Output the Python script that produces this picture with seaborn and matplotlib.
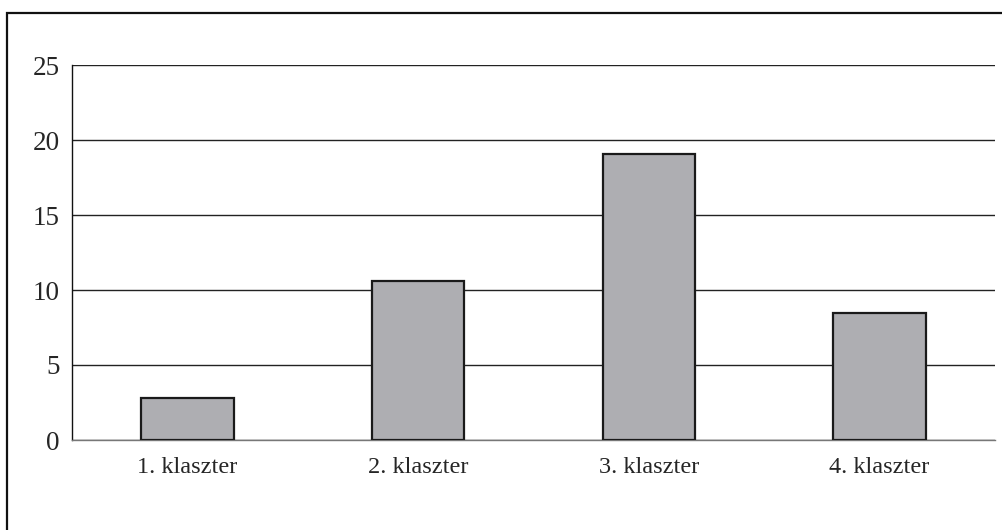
import matplotlib
matplotlib.use("Agg")
import matplotlib.pyplot as plt
import seaborn as sns
import pandas as pd
import numpy as np
from matplotlib.patches import Rectangle

categories = ["1. klaszter", "2. klaszter", "3. klaszter", "4. klaszter"]
values = [2.8, 10.6, 19.1, 8.5]
y_ticks = [0, 5, 10, 15, 20, 25]

df = pd.DataFrame({"klaszter": categories, "ertek": values})

sns.set_style("white")
plt.rcParams["font.family"] = ["Liberation Serif", "DejaVu Serif"]

fig = plt.figure(figsize=(10.03, 5.30), dpi=100)
ax = fig.add_axes([72 / 1003, 1 - 440 / 530, (995 - 72) / 1003, (440 - 65) / 530])

sns.barplot(data=df, x="klaszter", y="ertek", order=categories, color="#AEAEB2",
            saturation=1, edgecolor="#1a1a1a", linewidth=1.6, width=0.4, ax=ax, zorder=3)

ax.set_ylim(0, 25)
ax.set_xlim(-0.5, len(categories) - 0.5)
ax.set_yticks(y_ticks)
ax.set_yticklabels([str(t) for t in y_ticks], fontsize=19.5)
ax.yaxis.grid(True, color="#222222", linewidth=1.0, zorder=0)
ax.set_axisbelow(True)

# category boundaries carry the ticks, labels sit at the centres
ax.set_xticks(np.arange(len(categories) + 1) - 0.5)
ax.set_xticklabels([""] * (len(categories) + 1))
ax.set_xticks(np.arange(len(categories)), minor=True)
ax.set_xticklabels(categories, minor=True, fontsize=17.5)
ax.tick_params(axis="x", which="major", direction="out", length=7, width=1, color="#777777")
ax.tick_params(axis="x", which="minor", length=0, pad=12)
ax.tick_params(axis="y", direction="out", length=6, width=1, color="#222222", pad=3)

ax.set_xlabel("")
ax.set_ylabel("")
for s in ["top", "right"]:
    ax.spines[s].set_visible(False)
ax.spines["left"].set_color("#111111")
ax.spines["left"].set_linewidth(1.0)
ax.spines["bottom"].set_color("#777777")
ax.spines["bottom"].set_linewidth(1.0)

# outer chart frame
frame = Rectangle((7 / 1003, -0.02), 1.05, 1 - 13 / 530 + 0.02, transform=fig.transFigure,
                  fill=False, edgecolor="#111111", linewidth=1.6, clip_on=False)
fig.patches.append(frame)

fig.savefig("out.png", dpi=100)
